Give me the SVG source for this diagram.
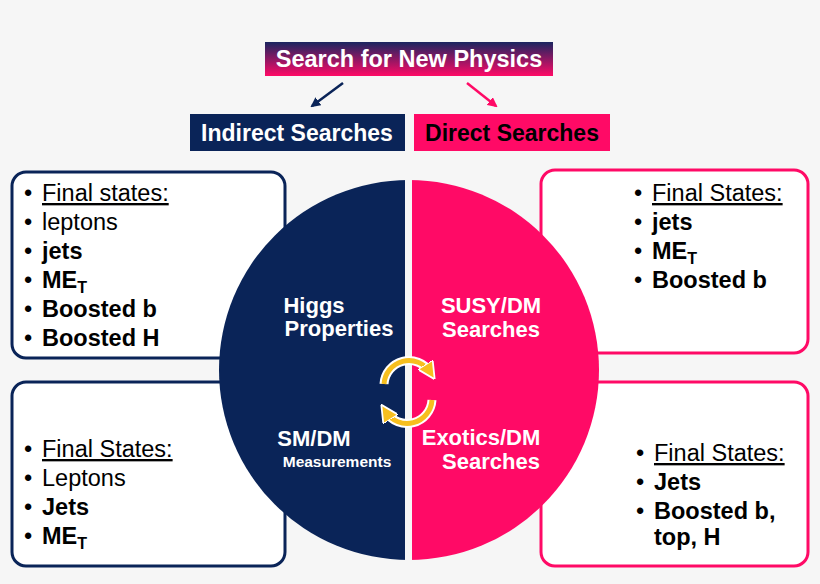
<svg xmlns="http://www.w3.org/2000/svg" width="820" height="584" viewBox="0 0 820 584">
<defs>
<linearGradient id="hg" x1="0" y1="0" x2="0" y2="1"><stop offset="0" stop-color="#1a2560"/><stop offset="1" stop-color="#ff0a66"/></linearGradient>
<marker id="an" viewBox="0 0 10 10" refX="8" refY="5" markerWidth="4" markerHeight="4" orient="auto"><path d="M0,0L10,5L0,10z" fill="#0a2458"/></marker>
<marker id="ap" viewBox="0 0 10 10" refX="8" refY="5" markerWidth="4" markerHeight="4" orient="auto"><path d="M0,0L10,5L0,10z" fill="#ff0a66"/></marker>
<marker id="ay" viewBox="0 0 10 10" refX="5" refY="5" markerWidth="3.5" markerHeight="3.5" orient="auto"><path d="M0,0L10,5L0,10z" fill="#f7bf1e" stroke="#fff" stroke-width="1"/></marker>
<clipPath id="cc"><rect x="0" y="0" width="820" height="567"/></clipPath>
</defs>
<style>
text{font-family:"Liberation Sans",Arial,sans-serif;font-size:23.5px;fill:#000}
.b{font-weight:bold}
.w{fill:#fff;font-weight:bold}
.c{font-size:22px}
.u{text-decoration:underline}
.s{font-size:16px}
.bn{fill:#fff;stroke:#0a2458;stroke-width:3}
.bp{fill:#fff;stroke:#ff0a66;stroke-width:3}
</style>
<rect width="820" height="584" fill="#f6f6f6"/>
<g id="box-tl"><rect class="bn" x="12" y="172" width="273" height="186" rx="14"/>
<text x="24" y="201">•</text><text x="42" y="201" class="u">Final states:</text>
<text x="24" y="230">•</text><text x="42" y="230">leptons</text>
<text x="24" y="259">•</text><text x="42" y="259" class="b">jets</text>
<text x="24" y="288">•</text><text x="42" y="288" class="b">ME<tspan class="s" dy="5">T</tspan></text>
<text x="24" y="317">•</text><text x="42" y="317" class="b">Boosted b</text>
<text x="24" y="346">•</text><text x="42" y="346" class="b">Boosted H</text></g>
<g id="box-bl"><rect class="bn" x="12" y="382" width="273" height="184" rx="14"/>
<text x="24" y="457">•</text><text x="42" y="457" class="u">Final States:</text>
<text x="24" y="486">•</text><text x="42" y="486">Leptons</text>
<text x="24" y="515">•</text><text x="42" y="515" class="b">Jets</text>
<text x="24" y="544">•</text><text x="42" y="544" class="b">ME<tspan class="s" dy="5">T</tspan></text></g>
<g id="box-tr"><rect class="bp" x="541" y="170" width="267" height="183" rx="14"/>
<text x="634" y="201">•</text><text x="652" y="201" class="u">Final States:</text>
<text x="634" y="230">•</text><text x="652" y="230" class="b">jets</text>
<text x="634" y="259">•</text><text x="652" y="259" class="b">ME<tspan class="s" dy="5">T</tspan></text>
<text x="634" y="288">•</text><text x="652" y="288" class="b">Boosted b</text></g>
<g id="box-br"><rect class="bp" x="541" y="382" width="267" height="184" rx="14"/>
<text x="636" y="461">•</text><text x="654" y="461" class="u">Final States:</text>
<text x="636" y="490">•</text><text x="654" y="490" class="b">Jets</text>
<text x="636" y="519">•</text><text x="654" y="519" class="b">Boosted b,</text>
<text x="654" y="545" class="b">top, H</text></g>
<g id="circle" clip-path="url(#cc)">
<path d="M409,180A190,190 0 0 0 409,560Z" fill="#0a2458"/>
<path d="M409,180A190,190 0 0 1 409,560Z" fill="#ff0a66"/>
<rect x="405" y="178" width="7" height="390" fill="#f6f6f6"/>
</g>
<g id="higgs"><text class="w c" x="314" y="313" text-anchor="middle">Higgs</text><text class="w c" x="339" y="336" text-anchor="middle">Properties</text></g>
<g id="susy"><text class="w c" x="491" y="313" text-anchor="middle">SUSY/DM</text><text class="w c" x="491" y="337" text-anchor="middle">Searches</text></g>
<g id="sm"><text class="w c" x="314" y="446" text-anchor="middle">SM/DM</text><text class="w" x="337" y="467" text-anchor="middle" style="font-size:15.5px">Measurements</text></g>
<g id="exotics"><text class="w c" x="481" y="445" text-anchor="middle">Exotics/DM</text><text class="w c" x="491" y="469" text-anchor="middle">Searches</text></g>
<g id="cycle" fill="none" stroke-linecap="butt">
<path d="M384,384A25,25 0 0 1 430,372" stroke="#fff" stroke-width="9"/>
<path d="M432,400A25,25 0 0 1 386,412" stroke="#fff" stroke-width="9"/>
<path d="M384,384A25,25 0 0 1 430,372" stroke="#f7bf1e" stroke-width="5" marker-end="url(#ay)"/>
<path d="M432,400A25,25 0 0 1 386,412" stroke="#f7bf1e" stroke-width="5" marker-end="url(#ay)"/>
</g>
<g id="header"><rect x="265" y="42" width="288" height="34" fill="url(#hg)"/><text class="w" x="409" y="67" text-anchor="middle" style="font-size:23.5px">Search for New Physics</text></g>
<g id="indirect"><rect x="190" y="114" width="215" height="37" fill="#0a2458"/><text class="w" x="297" y="141" text-anchor="middle" style="font-size:23px">Indirect Searches</text></g>
<g id="direct"><rect x="414" y="114" width="196" height="37" fill="#ff0a66"/><text class="b" x="512" y="141" text-anchor="middle" style="font-size:23px">Direct Searches</text></g>
<g id="connectors">
<line x1="343" y1="83" x2="312" y2="106" stroke="#0a2458" stroke-width="2.5" marker-end="url(#an)"/>
<line x1="467" y1="83" x2="496" y2="106" stroke="#ff0a66" stroke-width="2.5" marker-end="url(#ap)"/>
</g>
</svg>
